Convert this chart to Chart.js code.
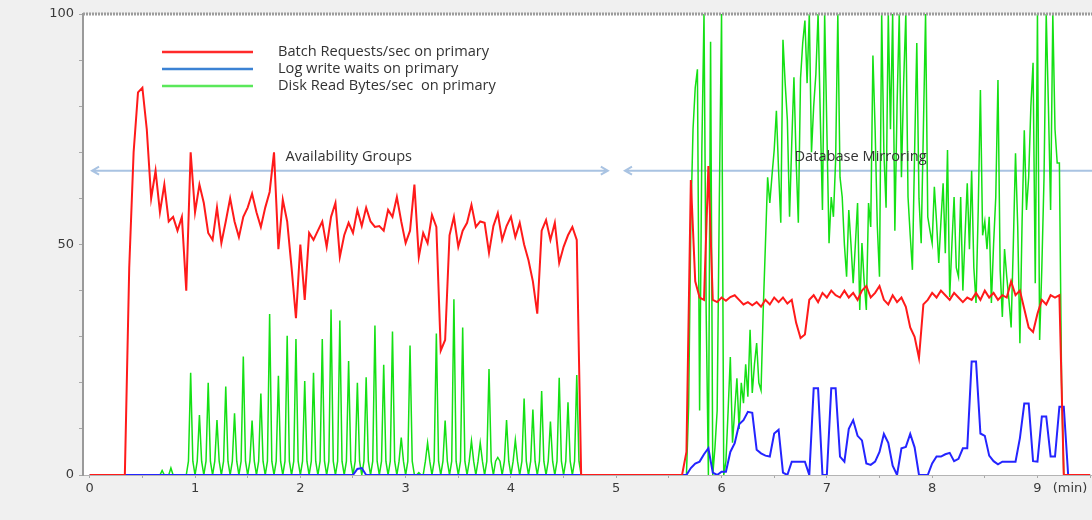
<!DOCTYPE html>
<html>
<head>
<meta charset="utf-8">
<script src="https://cdn.jsdelivr.net/npm/chart.js@4.4.0/dist/chart.umd.min.js"></script>
<style>
  html, body { margin: 0; padding: 0; background: #f0f0f0; }
  #wrap { width: 1092px; height: 520px; }
</style>
</head>
<body>
<div id="wrap"><canvas id="chart" width="1092" height="520"></canvas></div>
<script>
// sample spacing in minutes
const redStep = 1 / 24;
const blueStep = 1 / 24;
const greenStep = 1 / 48;

const labels = ["Batch Requests/sec on primary", "Log write waits on primary", "Disk Read Bytes/sec  on primary"];

const batchRequests = [
  0,0,0,0,0,0,0,0,0,45,
  70,83,84,75,60,66,57,63,55,56,
  53,56,40,70,57,63,59,52.5,51,58,
  50.3,55,60,55,51.6,56,58,61,57,53.8,
  58,61.4,70,49,59.7,55,45,34,50,38,
  52.5,51,53,55,49.5,56,59,47.3,52,54.7,
  52.5,57.5,54,58,55,53.8,54,53,57.5,56,
  60.3,55,50.3,53,63,47.3,52.5,50.3,56.4,53.8,
  27,29.3,52,56,49.5,53,54.7,58.6,53.8,55,
  54.7,48.2,54,56.8,51,54,56,51.6,54.7,50,
  46.6,42,35,53,55.3,51,54.7,46,49.5,52,
  53.8,51,0,0,0,0,0,0,0,0,
  0,0,0,0,0,0,0,0,0,0,
  0,0,0,0,0,0,5,64,42,38.5,
  38,67,38,37.5,38.5,37.8,38.6,39,38,37,
  37.5,36.8,37.5,36.5,38,37,38.5,37.5,38.5,37.2,
  38,33,29.7,30.5,38,39,37.5,39.5,38.5,40,
  39,38.5,40,38.5,39.5,38,40,41,38.5,39.5,
  41,38,37,39,37.5,38.5,36.5,32,30,25.4,
  37,38,39.5,38.5,40,39,38,39.5,38.5,37.5,
  38.5,38,39.5,38,40,38.5,39.5,38,39,38.5,
  42,39,40,36,32,31,35,38,37,39,
  38.5,39,0,0,0,0,0,0,0
];

const logWriteWaits = [
  0,0,0,0,0,0,0,0,0,0,
  0,0,0,0,0,0,0,0,0,0,
  0,0,0,0,0,0,0,0,0,0,
  0,0,0,0,0,0,0,0,0,0,
  0,0,0,0,0,0,0,0,0,0,
  0,0,0,0,0,0,0,0,0,0,
  0,1.3,1.5,0,0,0,0,0,0,0,
  0,0,0,0,0,0,0,0,0,0,
  0,0,0,0,0,0,0,0,0,0,
  0,0,0,0,0,0,0,0,0,0,
  0,0,0,0,0,0,0,0,0,0,
  0,0,0,0,0,0,0,0,0,0,
  0,0,0,0,0,0,0,0,0,0,
  0,0,0,0,0,0,0,1.5,2.5,2.9,
  4.5,5.8,0.5,0,0.7,0.7,5,6.9,11,11.9,
  13.7,13.5,5.5,4.7,4.2,4,9,9.8,0.5,0,
  2.9,2.9,2.9,2.9,0,18.8,18.8,0,0,18.8,
  18.8,4,2.9,10,11.9,8.5,7.5,2.5,2.2,2.9,
  5,8.9,7,2,0,5.8,6.1,8.9,6,0,
  0,0,2.5,4,4,4.5,4.8,3,3.5,5.8,
  5.8,24.6,24.6,9,8.5,4.2,3,2.3,2.9,2.9,
  2.9,2.9,8,15.5,15.5,3,2.9,12.7,12.7,4,
  4,14.8,14.8,0,0,0,0,0,0
];

const diskReadBytes = [
  0,0,0,0,0,0,0,0, 0,0,0,0,0,0,0,0, 0,0,0,0,0,0,0,0, 0,0,0,0,0,0,0,0,
  0,1,0,0,0,1.5,0,0,
  0,0,0,0,
  0,3,22.2,3, 0,3,13,3, 0,3,20,3, 0,3,11.9,3, 0,3,19.2,3,
  0,3,13.4,3, 0,3,25.7,3, 0,3,11.8,3, 0,3,17.7,3, 0,3,34.9,3,
  0,3,21.5,3, 0,3,30.2,3, 0,3,29.5,3, 0,3,20.4,3, 0,3,22.2,3,
  0,3,29.5,3, 0,3,35.9,3, 0,3,33.5,3, 0,3,24.7,3, 0,3,20,3,
  0,3,21.2,3, 0,3,32.4,3, 0,3,23.9,3, 0,3,31.1,3, 0,3,8.1,3,
  0,3,28.1,3, 0,0,0.5,0, 0,3,7,3, 0,3,30.7,3, 0,3,11.8,3,
  0,3,38.1,3, 0,3,32,3, 0,3,7.4,3, 0,3,7,3, 0,3,23,3,
  0,3,3.8,3, 0,3,11.9,3, 0,3,7.6,3, 0,3,16.6,3, 0,3,14.2,3,
  0,3,18.2,3, 0,3,11.6,3, 0,3,21.1,3, 0,3,15.8,3, 0,3,21.7,3,
  0,0,0,0,0,0,0,0, 0,0,0,0,0,0,0,0, 0,0,0,0,0,0,0,0,
  0,0,0,0,0,0,0,0, 0,0,0,0,0,0,0,0, 0,0,0,0,0,0,0,0,
  0,15,55,75,84,88,14,70,100,35,
  0,94,0,6,14,60,100,0,3,14,
  25.6,7,14,21,10,20,15.6,24,17,31.5,
  17.8,24,28.6,20,18.4,35.8,50,64.6,59,65,
  70.5,79,66,54.7,94.4,85,77,56,72,86.3,
  68.3,54.7,86,93.7,98.6,85,100,70,80,87,
  100,78,57.5,100,75,50.3,60.3,56,68.3,100,
  64.6,60.3,50,43,57.5,50,41.6,50,59,35.8,
  50.3,42,35.8,59,53.8,91,75,54,43,100,
  70,58,100,75,100,53,80,100,64.6,85,
  100,60.3,52,44.5,70,93.7,60,50.3,75,100,
  56,53,50.3,62.5,55,46,55,63.3,48.1,70.5,
  38.6,50,60.3,45,43,60.3,40,52,63.3,49,
  66,45,37.3,57.5,83.5,52,55,49,56,37.3,
  50,60.3,85.7,44.5,34.3,49,43,38,32,50,
  69.8,54,28.6,55,74.8,57.5,64.6,80,89.4,41.6,
  100,29.3,45,64.6,100,80,57.5,100,75,67.7,
  67.7,20,0,
  0,0,0,0,0,0,0,0,0,0,0,0
];

const xTickLabels = [0, 1, 2, 3, 4, 5, 6, 7, 8, 9];
const xUnitLabel = "(min)";
const yTickLabels = [0, 50, 100];

// phase annotations: [from, to, label, labelAt] in minutes
const phases = [
  [0.022, 4.92, "Availability Groups", 2.46],
  [5.083, 9.6, "Database Mirroring", 7.32]
];
const phaseLevel = 66;

const xMin = -0.064, xMax = 9.518;

function pts(vals, step) {
  return vals.map((v, i) => ({ x: i * step, y: v }));
}

const lineColors = ["#ff1a1a", "#2424ff", "#14e014"];
const legendColors = ["#ff2a2a", "#3b82d4", "#5ae85a"];
const textFont = "14.6px 'Open Sans', sans-serif";

const paperPlugin = {
  id: "paper",
  beforeDraw(chart) {
    const { ctx, chartArea: a } = chart;
    ctx.save();
    ctx.fillStyle = "#ffffff";
    ctx.fillRect(a.left, a.top, a.right - a.left, a.bottom - a.top);
    ctx.restore();
  },
  beforeDatasetsDraw(chart) {
    const { ctx, scales } = chart;
    const y = scales.y.getPixelForValue(phaseLevel);
    ctx.save();
    ctx.strokeStyle = "#a9c3e2";
    ctx.lineWidth = 2;
    phases.forEach(p => {
      const x1 = scales.x.getPixelForValue(p[0]);
      const x2 = Math.min(scales.x.getPixelForValue(p[1]), chart.chartArea.right);
      ctx.beginPath();
      ctx.moveTo(x1, y); ctx.lineTo(x2, y);
      ctx.moveTo(x1 + 7, y - 4); ctx.lineTo(x1, y); ctx.lineTo(x1 + 7, y + 4);
      if (p[1] < xMax) {
        ctx.moveTo(x2 - 7, y - 4); ctx.lineTo(x2, y); ctx.lineTo(x2 - 7, y + 4);
      }
      ctx.stroke();
    });
    ctx.restore();
  },
  afterDatasetsDraw(chart) {
    const { ctx, scales, chartArea: a } = chart;
    ctx.save();
    // phase texts
    ctx.font = textFont;
    ctx.fillStyle = "#333";
    ctx.textAlign = "center";
    ctx.textBaseline = "middle";
    const ty = scales.y.getPixelForValue(phaseLevel) - 14;
    phases.forEach(p => ctx.fillText(p[2], scales.x.getPixelForValue(p[3]), ty));

    // legend inside plot
    ctx.textAlign = "left";
    labels.forEach((lab, i) => {
      const ly = a.top + 38 + i * 17;
      ctx.strokeStyle = legendColors[i];
      ctx.lineWidth = 2.5;
      ctx.beginPath();
      ctx.moveTo(a.left + 79, ly); ctx.lineTo(a.left + 170, ly);
      ctx.stroke();
      ctx.fillText(lab, a.left + 195, ly);
    });

    // dotted top frame
    ctx.strokeStyle = "#9c9c9c";
    ctx.lineWidth = 3;
    ctx.setLineDash([2, 1]);
    ctx.beginPath();
    ctx.moveTo(a.left, a.top); ctx.lineTo(a.right, a.top);
    ctx.stroke();
    ctx.restore();
  }
};

const series = [batchRequests, logWriteWaits, diskReadBytes];
const steps = [redStep, blueStep, greenStep];
const widths = [2, 2, 1.5];

new Chart(document.getElementById("chart"), {
  type: "line",
  data: {
    datasets: series.map((s, i) => ({
      label: labels[i],
      data: pts(s, steps[i]),
      borderColor: lineColors[i],
      borderWidth: widths[i],
      pointRadius: 0,
      tension: 0,
      fill: false
    }))
  },
  options: {
    responsive: false,
    animation: false,
    events: [],
    layout: { padding: { top: 14, left: 0, right: 0, bottom: 0 } },
    plugins: { legend: { display: false }, tooltip: { enabled: false } },
    scales: {
      x: {
        type: "linear",
        min: xMin,
        max: xMax,
        afterBuildTicks: s => {
          const t = [];
          xTickLabels.forEach(v => { t.push({ value: v }); t.push({ value: v + 0.5 }); });
          t.push({ value: 9.31 });
          s.ticks = t;
        },
        afterFit: s => { s.height = 45; },
        ticks: {
          autoSkip: false,
          maxRotation: 0,
          padding: 3,
          color: "#3a3a3a",
          font: { family: "'DejaVu Sans', sans-serif", size: 13 },
          callback: v => (v === 9.31 ? xUnitLabel : (xTickLabels.includes(v) ? String(v) : ""))
        },
        grid: {
          drawOnChartArea: false,
          tickLength: 3,
          color: ctx => (ctx.tick && ctx.tick.value === 9.31 ? "rgba(0,0,0,0)" : "#a8a8a8")
        },
        border: { color: "#b4b4b4", width: 1 }
      },
      y: {
        min: 0,
        max: 100,
        afterBuildTicks: s => {
          s.ticks = [0, 10, 20, 30, 40, 50, 60, 70, 80, 90, 100].map(v => ({ value: v }));
        },
        afterFit: s => { s.width = 83; },
        ticks: {
          padding: 5,
          color: "#3a3a3a",
          font: { family: "'DejaVu Sans', sans-serif", size: 13 },
          callback: v => (yTickLabels.includes(v) ? String(v) : "")
        },
        grid: { drawOnChartArea: false, tickLength: 4, color: "#a8a8a8" },
        border: { color: "#9a9a9a", width: 2 }
      }
    }
  },
  plugins: [paperPlugin]
});
</script>
</body>
</html>
